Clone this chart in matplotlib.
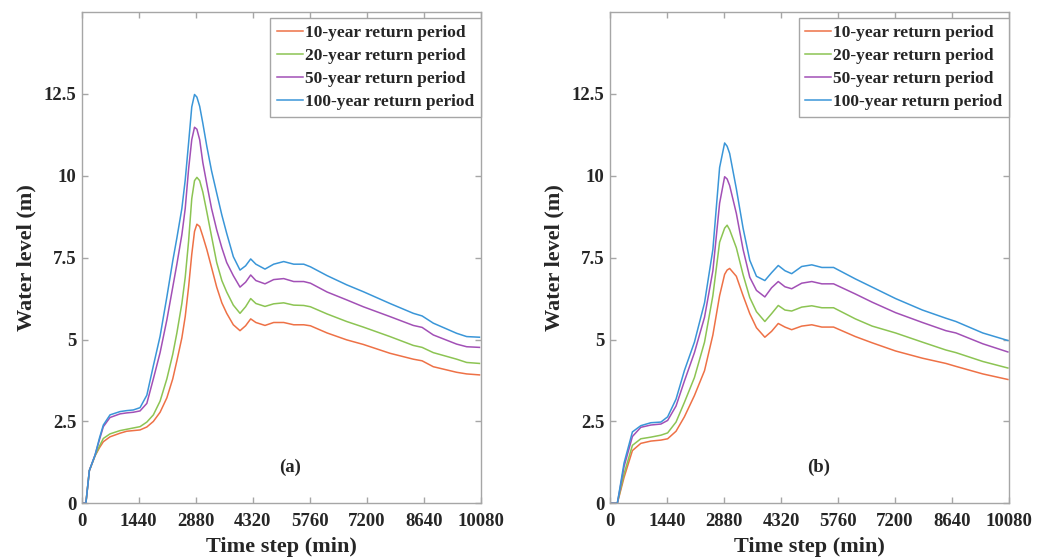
import matplotlib
matplotlib.use("Agg")
import matplotlib.pyplot as plt

# ---------------- data ----------------
series_labels = ["10-year return period", "20-year return period",
                 "50-year return period", "100-year return period"]
x_ticks = [0, 1440, 2880, 4320, 5760, 7200, 8640, 10080]
y_ticks = [0, 2.5, 5, 7.5, 10, 12.5]
y_tick_labels = ["0", "2.5", "5", "7.5", "10", "12.5"]

t_a = [0, 105, 193, 336, 450, 546, 715, 967, 1136, 1304, 1473, 1645, 1810, 1980, 2151,
       2300, 2404, 2530, 2615, 2700, 2780, 2850, 2910, 2980, 3060, 3160, 3280, 3410, 3540,
       3663, 3830, 3999, 4140, 4269, 4400, 4630, 4850, 5103, 5356, 5609, 5778, 6200, 6694,
       7114, 7788, 8377, 8600, 8882, 9472, 9725, 10050]
rp10_a = [0, 0, 1.0, 1.45, 1.7, 1.88, 2.03, 2.14, 2.2, 2.22, 2.24, 2.33, 2.5, 2.78, 3.22,
          3.8, 4.35, 5.05, 5.7, 6.6, 7.6, 8.3, 8.52, 8.45, 8.15, 7.75, 7.2, 6.6, 6.12,
          5.8, 5.45, 5.27, 5.42, 5.63, 5.52, 5.43, 5.52, 5.52, 5.45, 5.45, 5.42, 5.2, 4.99,
          4.85, 4.58, 4.40, 4.35, 4.17, 4.0, 3.95, 3.92]
rp20_a = [0, 0, 1.0, 1.45, 1.75, 1.98, 2.12, 2.22, 2.26, 2.3, 2.34, 2.48, 2.7, 3.12, 3.8,
          4.55, 5.2, 6.1, 6.9, 8.0, 9.3, 9.85, 9.95, 9.85, 9.5, 8.9, 8.15, 7.35, 6.8,
          6.45, 6.05, 5.8, 6.0, 6.25, 6.1, 6.01, 6.09, 6.12, 6.05, 6.04, 6.0, 5.78, 5.55,
          5.38, 5.09, 4.82, 4.76, 4.60, 4.40, 4.30, 4.27]
rp50_a = [0, 0, 1.0, 1.47, 1.95, 2.34, 2.62, 2.73, 2.76, 2.78, 2.82, 3.05, 3.8, 4.6, 5.6,
          6.6, 7.3, 8.2, 9.0, 10.2, 11.1, 11.48, 11.42, 11.1, 10.4, 9.75, 9.0, 8.35, 7.8,
          7.35, 6.95, 6.6, 6.75, 6.97, 6.8, 6.70, 6.83, 6.86, 6.77, 6.77, 6.72, 6.45, 6.21,
          6.0, 5.70, 5.43, 5.37, 5.14, 4.86, 4.78, 4.76]
rp100_a = [0, 0, 1.0, 1.47, 2.0, 2.39, 2.70, 2.80, 2.83, 2.85, 2.92, 3.3, 4.2, 5.1, 6.3,
           7.4, 8.1, 9.0, 9.87, 11.0, 12.1, 12.48, 12.4, 12.12, 11.6, 10.9, 10.15, 9.47, 8.8,
           8.24, 7.53, 7.12, 7.25, 7.46, 7.3, 7.15, 7.3, 7.38, 7.3, 7.3, 7.22, 6.95, 6.67,
           6.46, 6.1, 5.8, 5.72, 5.5, 5.19, 5.09, 5.07]

t_b = [0, 186, 356, 567, 779, 1033, 1287, 1457, 1669, 1880, 2134, 2389, 2600, 2770, 2897,
       2960, 3024, 3193, 3363, 3532, 3701, 3913, 4083, 4252, 4421, 4591, 4845, 5099, 5353,
       5649, 6200, 6624, 7216, 7894, 8487, 8741, 9419, 10054]
rp10_b = [0, 0, 0.79, 1.61, 1.83, 1.9, 1.93, 1.97, 2.2, 2.64, 3.29, 4.05, 5.14, 6.34, 6.99,
          7.12, 7.17, 6.93, 6.34, 5.79, 5.36, 5.07, 5.25, 5.49, 5.38, 5.3, 5.41, 5.45, 5.38,
          5.38, 5.09, 4.9, 4.65, 4.43, 4.27, 4.18, 3.95, 3.78]
rp20_b = [0, 0, 0.9, 1.77, 1.97, 2.02, 2.08, 2.15, 2.48, 3.08, 3.84, 4.92, 6.34, 7.97, 8.4,
          8.49, 8.35, 7.8, 6.98, 6.28, 5.85, 5.55, 5.79, 6.04, 5.9, 5.87, 5.99, 6.03, 5.97,
          5.97, 5.63, 5.41, 5.2, 4.92, 4.68, 4.6, 4.33, 4.13]
rp50_b = [0, 0, 1.12, 2.04, 2.32, 2.39, 2.42, 2.53, 2.97, 3.73, 4.6, 5.68, 7.1, 9.16, 9.97,
          9.9, 9.7, 8.85, 7.75, 6.9, 6.5, 6.30, 6.58, 6.77, 6.61, 6.55, 6.72, 6.77, 6.7,
          6.7, 6.39, 6.14, 5.82, 5.52, 5.27, 5.2, 4.87, 4.62]
rp100_b = [0, 0, 1.23, 2.18, 2.37, 2.46, 2.48, 2.64, 3.18, 4.05, 4.92, 6.12, 7.75, 10.25, 11.0,
           10.9, 10.68, 9.6, 8.4, 7.42, 6.93, 6.80, 7.04, 7.26, 7.1, 7.01, 7.23, 7.28, 7.2,
           7.2, 6.85, 6.6, 6.25, 5.9, 5.65, 5.55, 5.2, 4.97]

panels = [
    ("(a)", t_a, [rp10_a, rp20_a, rp50_a, rp100_a]),
    ("(b)", t_b, [rp10_b, rp20_b, rp50_b, rp100_b]),
]

# ---------------- style ----------------
colors = ["#EE7146", "#8CC453", "#A250B6", "#3A96D8"]
FONT = "Liberation Serif"
plt.rcParams["font.family"] = [FONT, "DejaVu Serif"]
plt.rcParams["font.weight"] = "bold"
spine_col = "#A6A6A6"
text_col = "#262626"

fig = plt.figure(figsize=(10.45, 5.58), dpi=100)
positions = [[0.0782, 0.098, 0.3818, 0.8806], [0.5837, 0.098, 0.3818, 0.8806]]

for pos, (tag, t, ys) in zip(positions, panels):
    ax = fig.add_axes(pos)
    for y, c, lab in zip(ys, colors, series_labels):
        ax.plot(t, y, color=c, lw=1.1, label=lab, solid_joinstyle="round")
    ax.set_xlim(0, 10080)
    ax.set_ylim(0, 15)
    ax.set_xticks(x_ticks)
    ax.set_xticklabels([str(v) for v in x_ticks])
    ax.set_yticks(y_ticks)
    ax.set_yticklabels(y_tick_labels)
    for s in ax.spines.values():
        s.set_color(spine_col)
        s.set_linewidth(1.0)
    ax.tick_params(direction="in", top=True, right=True, length=4, width=1.0,
                   color=spine_col, labelsize=13.5, labelcolor=text_col)
    ax.tick_params(axis="x", pad=7)
    ax.tick_params(axis="y", pad=4)
    for lbl in ax.get_xticklabels() + ax.get_yticklabels():
        lbl.set_fontweight("bold")
    ax.set_xlabel("Time step (min)", fontsize=16, fontweight="bold", color=text_col, labelpad=5)
    ax.set_ylabel("Water level (m)", fontsize=16, fontweight="bold", color=text_col, labelpad=5)
    ax.text(0.522, 0.074, tag, transform=ax.transAxes, ha="center", va="center",
            fontsize=13.5, fontweight="bold", color=text_col)
    leg = ax.legend(loc="upper right", bbox_to_anchor=(1.0, 1 - 6 / 491), borderaxespad=0,
                    fontsize=12.5, handlelength=1.5, handletextpad=0.1, labelspacing=0.4,
                    borderpad=0.38, frameon=True, fancybox=False, framealpha=1)
    leg.get_frame().set_edgecolor(spine_col)
    leg.get_frame().set_linewidth(1.0)
    for txt in leg.get_texts():
        txt.set_fontweight("bold")
        txt.set_color(text_col)

fig.savefig("out.png", dpi=100)
